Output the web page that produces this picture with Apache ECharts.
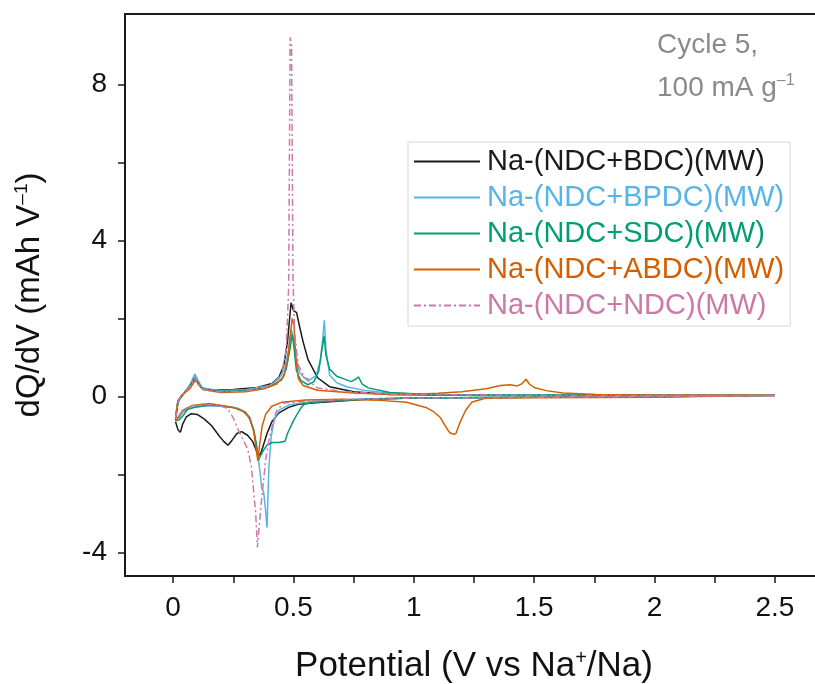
<!DOCTYPE html>
<html>
<head>
<meta charset="utf-8">
<script src="https://cdn.jsdelivr.net/npm/echarts@6/dist/echarts.min.js"></script>
<style>html,body{margin:0;padding:0;background:#fff;}#c{width:815px;height:684px;}</style>
</head>
<body>
<div id="c"></div>
<script>
// ---- data (potential V, dQ/dV mAh/V), each a closed loop: charge (up) then discharge (down)
const seriesNames = ['Na-(NDC+BDC)(MW)','Na-(NDC+BPDC)(MW)','Na-(NDC+SDC)(MW)','Na-(NDC+ABDC)(MW)','Na-(NDC+NDC)(MW)'];

const potBDC = [0.010,0.020,0.035,0.060,0.080,0.093,0.105,0.120,0.160,0.250,0.350,0.410,0.440,0.460,0.475,0.490,0.500,0.513,0.525,0.540,0.560,0.600,0.650,0.750,0.900,1.200,1.800,2.500,
  2.500,2.000,1.500,1.000,0.800,0.680,0.580,0.520,0.480,0.440,0.410,0.390,0.375,0.362,0.350,0.330,0.310,0.285,0.265,0.245,0.228,0.210,0.190,0.160,0.130,0.100,0.075,0.055,0.040,0.030,0.020,0.010];
const dqBDC  = [-0.62,-0.15,0.02,0.20,0.38,0.50,0.35,0.22,0.16,0.18,0.23,0.33,0.50,0.80,1.40,2.40,2.20,2.15,1.80,1.40,0.95,0.48,0.25,0.12,0.05,0.03,0.03,0.03,
  -0.01,-0.01,-0.02,-0.04,-0.07,-0.12,-0.17,-0.20,-0.28,-0.42,-0.65,-0.95,-1.25,-1.50,-1.45,-1.15,-1.00,-0.90,-0.95,-1.12,-1.25,-1.15,-1.00,-0.75,-0.58,-0.46,-0.44,-0.52,-0.70,-0.92,-0.85,-0.65];

const potBPDC = [0.010,0.020,0.040,0.070,0.090,0.100,0.120,0.200,0.300,0.400,0.440,0.465,0.480,0.492,0.500,0.510,0.525,0.545,0.570,0.595,0.612,0.622,0.628,0.635,0.650,0.680,0.720,0.800,0.900,1.200,2.500,
  2.500,1.500,1.000,0.800,0.650,0.550,0.480,0.440,0.420,0.407,0.398,0.390,0.383,0.376,0.368,0.360,0.355,0.345,0.335,0.320,0.300,0.270,0.200,0.140,0.090,0.060,0.040,0.025,0.010];
const dqBPDC  = [-0.50,-0.10,0.05,0.30,0.58,0.45,0.22,0.15,0.17,0.28,0.45,0.75,1.20,1.70,1.50,1.00,0.62,0.48,0.43,0.55,0.95,1.50,1.95,1.20,0.55,0.35,0.25,0.15,0.08,0.04,0.03,
  -0.01,-0.02,-0.04,-0.06,-0.10,-0.15,-0.22,-0.35,-0.60,-1.05,-1.80,-3.36,-2.85,-2.45,-2.35,-1.90,-1.65,-1.20,-0.90,-0.55,-0.40,-0.30,-0.25,-0.24,-0.28,-0.33,-0.40,-0.55,-0.62];

const potSDC = [0.010,0.020,0.040,0.070,0.092,0.105,0.120,0.200,0.300,0.400,0.450,0.470,0.485,0.495,0.503,0.512,0.530,0.560,0.585,0.605,0.617,0.627,0.635,0.650,0.680,0.710,0.740,0.760,0.770,0.785,0.810,0.900,1.100,2.500,
  2.500,1.500,1.000,0.800,0.650,0.570,0.545,0.530,0.500,0.475,0.465,0.440,0.410,0.390,0.375,0.365,0.355,0.345,0.335,0.315,0.290,0.250,0.200,0.150,0.090,0.060,0.040,0.025,0.010];
const dqSDC  = [-0.55,-0.12,0.03,0.28,0.48,0.35,0.20,0.13,0.15,0.25,0.42,0.70,1.20,1.60,1.20,0.67,0.41,0.30,0.38,0.65,1.15,1.55,1.05,0.70,0.52,0.45,0.38,0.45,0.50,0.32,0.22,0.10,0.04,0.02,
  -0.01,-0.02,-0.04,-0.07,-0.12,-0.16,-0.20,-0.30,-0.62,-0.95,-1.15,-1.18,-1.18,-1.25,-1.38,-1.50,-1.62,-1.20,-0.85,-0.52,-0.38,-0.28,-0.24,-0.22,-0.27,-0.33,-0.50,-0.60,-0.62];

const potABDC = [0.010,0.020,0.040,0.070,0.085,0.095,0.105,0.125,0.200,0.300,0.380,0.430,0.460,0.475,0.485,0.495,0.502,0.510,0.520,0.540,0.600,0.750,0.900,1.000,1.100,1.200,1.300,1.360,1.400,1.430,1.450,1.466,1.480,1.500,1.550,1.620,1.760,2.000,2.500,
  2.500,2.000,1.500,1.300,1.240,1.215,1.190,1.175,1.165,1.150,1.140,1.110,1.080,1.050,0.970,0.860,0.700,0.550,0.450,0.410,0.385,0.370,0.360,0.352,0.345,0.335,0.320,0.300,0.250,0.150,0.080,0.040,0.020,0.010];
const dqABDC  = [-0.58,-0.10,0.05,0.20,0.35,0.42,0.30,0.17,0.10,0.12,0.20,0.32,0.52,0.90,1.50,2.00,1.85,1.00,0.46,0.28,0.16,0.09,0.05,0.06,0.08,0.12,0.20,0.28,0.30,0.27,0.33,0.44,0.32,0.23,0.15,0.09,0.05,0.03,0.03,
  -0.01,-0.02,-0.03,-0.04,-0.15,-0.36,-0.69,-0.95,-0.97,-0.93,-0.85,-0.54,-0.38,-0.28,-0.15,-0.10,-0.07,-0.09,-0.15,-0.25,-0.45,-0.75,-1.20,-1.65,-1.35,-0.90,-0.60,-0.40,-0.28,-0.18,-0.23,-0.36,-0.54,-0.62];

const potNDC = [0.010,0.025,0.050,0.075,0.092,0.105,0.125,0.200,0.300,0.400,0.450,0.470,0.480,0.486,0.492,0.498,0.505,0.520,0.550,0.600,0.700,0.900,1.500,2.500,
  2.500,1.500,1.000,0.700,0.550,0.460,0.430,0.410,0.400,0.385,0.375,0.365,0.358,0.350,0.343,0.337,0.325,0.310,0.290,0.270,0.250,0.225,0.180,0.120,0.070,0.040,0.020,0.010];
const dqNDC  = [-0.55,-0.05,0.12,0.30,0.50,0.32,0.18,0.12,0.14,0.26,0.55,1.20,2.80,9.20,9.00,3.00,1.60,0.80,0.45,0.22,0.13,0.06,0.02,0.02,
  -0.01,-0.02,-0.04,-0.08,-0.12,-0.17,-0.36,-0.80,-1.05,-1.60,-2.20,-2.80,-3.30,-3.87,-3.00,-2.60,-1.80,-1.35,-1.10,-0.85,-0.55,-0.30,-0.22,-0.20,-0.25,-0.35,-0.52,-0.60];

const xLabelTicks = [0, 0.5, 1, 1.5, 2, 2.5];
const xAllTicks = [0, 0.25, 0.5, 0.75, 1, 1.25, 1.5, 1.75, 2, 2.25, 2.5];
const yLabelTicks = [-4, 0, 4, 8];
const yAllTicks = [-4, -2, 0, 2, 4, 6, 8];

const pots = [potBDC, potBPDC, potSDC, potABDC, potNDC];
const dqs  = [dqBDC, dqBPDC, dqSDC, dqABDC, dqNDC];
const colors = ['#1a1a1a', '#56B4E9', '#009E73', '#D55E00', '#CC79A7'];
const dashes = ['solid', 'solid', 'solid', 'solid', [7, 3, 2, 3]];

const zip = (a, b) => a.map((v, i) => [v, b[i]]);

const chart = echarts.init(document.getElementById('c'), null, {renderer: 'canvas'});
const FONT = '"Liberation Sans", Arial, sans-serif';
const axisCol = '#1a1a1a';
const supRich = (size, pad) => ({sup: {fontSize: size, verticalAlign: 'top', padding: [0, 0, pad, 0], color: '#111', fontFamily: FONT}});

const option = {
  animation: false,
  backgroundColor: '#fff',
  textStyle: {fontFamily: FONT},
  grid: {left: 125, right: -8, top: 14, bottom: 108, outerBoundsMode: 'none', containLabel: false,
         show: true, borderColor: axisCol, borderWidth: 2, backgroundColor: 'transparent'},
  xAxis: {type: 'value', min: -0.2, max: 2.7, splitLine: {show: false},
     axisLine: {show: true, onZero: false, lineStyle: {color: axisCol, width: 2}},
     axisTick: {show: true, inside: false, customValues: xAllTicks, length: 7, lineStyle: {color: axisCol, width: 1.5}},
     axisLabel: {customValues: xLabelTicks, fontSize: 28, color: '#111', margin: 18, fontFamily: FONT},
     name: 'Potential (V vs Na{sup|+}/Na)', nameLocation: 'middle', nameGap: 72,
     nameTextStyle: {fontSize: 35, color: '#111', fontFamily: FONT, rich: supRich(20, 16)}},
  yAxis: {type: 'value', min: -4.6, max: 9.8, splitLine: {show: false},
     axisLine: {show: true, onZero: false, lineStyle: {color: axisCol, width: 2}},
     axisTick: {show: true, inside: false, customValues: yAllTicks, length: 7, lineStyle: {color: axisCol, width: 1.5}},
     axisLabel: {customValues: yLabelTicks, fontSize: 28, color: '#111', margin: 18, fontFamily: FONT},
     name: 'dQ/dV (mAh V{sup|–1})', nameLocation: 'middle', nameGap: 78, nameRotate: 90,
     nameTextStyle: {fontSize: 33, color: '#111', fontFamily: FONT, rich: supRich(19, 16)}},
  legend: {
    orient: 'vertical', left: 408, top: 142, itemWidth: 66, itemHeight: 12, itemGap: 7,
    padding: [5, 6, 6, 5], borderColor: '#d8d8d8', borderWidth: 1, backgroundColor: '#fff',
    itemStyle: {opacity: 0},
    textStyle: {fontSize: 29, fontFamily: FONT, padding: [0, 0, 0, 2]},
    data: seriesNames.map((n, i) => ({name: n, textStyle: {color: colors[i]}, itemStyle: {opacity: 0}}))
  },
  graphic: [
    {type: 'text', left: 657, top: 31, style: {text: 'Cycle 5,', fontSize: 28, fill: '#8a8a8a', fontFamily: FONT}},
    {type: 'text', left: 657, top: 73, style: {text: '100 mA g{sup|–1}', fontSize: 28, fill: '#8a8a8a', fontFamily: FONT,
      rich: {sup: {fontSize: 16, fill: '#8a8a8a', verticalAlign: 'top', padding: [0, 0, 14, 0], fontFamily: FONT}}}}
  ],
  series: seriesNames.map((n, i) => ({
    name: n, type: 'line', symbol: 'none', smooth: false,
    data: zip(pots[i], dqs[i]), z: 2 + i,
    lineStyle: {color: colors[i], width: 1.5, type: dashes[i]}, itemStyle: {color: colors[i]}
  }))
};
chart.setOption(option);
</script>
</body>
</html>
